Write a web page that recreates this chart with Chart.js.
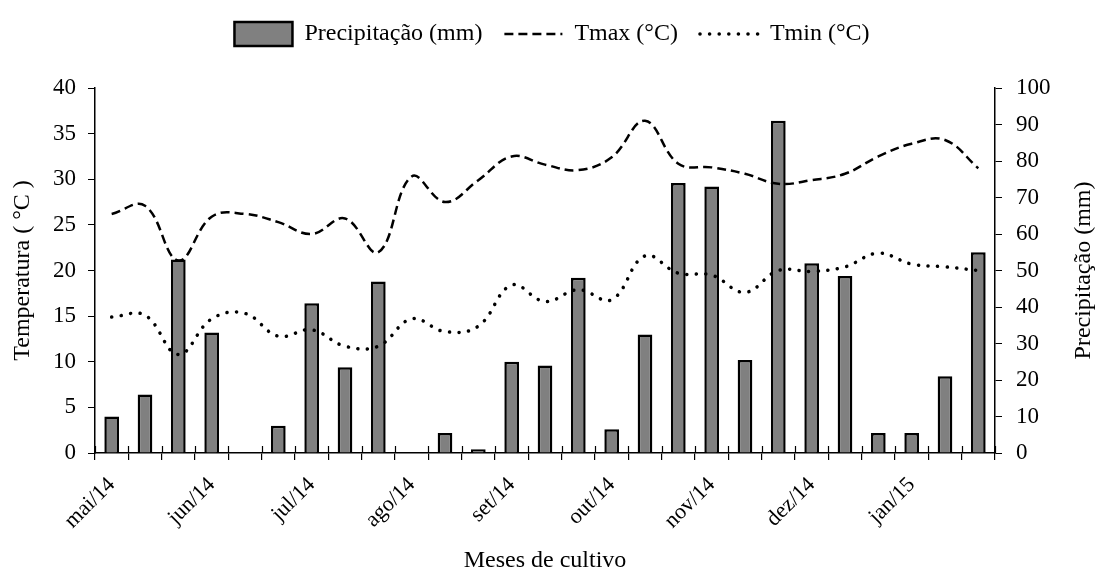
<!DOCTYPE html>
<html>
<head>
<meta charset="utf-8">
<script src="https://cdn.jsdelivr.net/npm/chart.js@4"></script>
<style>
  body { margin: 0; background: #fff; }
  #wrap { width: 1096px; height: 575px; }
</style>
</head>
<body>
<div id="wrap"><canvas id="chartClima"></canvas></div>
<script>
// 27 decendios, labelled once per month
const decendios = [
  'mai/14','','','jun/14','','','jul/14','','','ago/14','','','set/14','','',
  'out/14','','','nov/14','','','dez/14','','','jan/15','',''
];
const precipitacao = [10, 16, 53, 33, 0, 7.5, 41, 23.5, 47, 0, 5.5, 1, 25, 24, 48, 6.5, 32.5, 74, 73, 25.5, 91, 52, 48.5, 5.5, 5.5, 21, 55];
const tmax = [26.2, 27.1, 21.1, 25.9, 26.2, 25.3, 24.0, 25.7, 22.0, 30.3, 27.5, 29.9, 32.5, 31.6, 31.0, 32.4, 36.4, 31.7, 31.3, 30.6, 29.5, 29.9, 30.6, 32.5, 33.9, 34.3, 31.2];
const tmin = [14.9, 15.1, 10.8, 14.7, 15.3, 12.8, 13.5, 11.7, 11.7, 14.7, 13.3, 13.9, 18.4, 16.6, 17.9, 16.8, 21.6, 19.7, 19.5, 17.6, 20.0, 19.9, 20.4, 21.9, 20.7, 20.4, 20.0];

const serif = '"Liberation Serif", "Times New Roman", serif';
const fonteTick = {family: serif, size: 23};
const fonteTitulo = {family: serif, size: 24};
Chart.defaults.color = '#000';
Chart.defaults.font.family = serif;

// legend gets a fixed height so the plot starts lower, like the original
const extras = {
  id: 'extras',
  afterInit(chart) {
    const lg = chart.legend;
    const fit = lg.fit;
    lg.fit = function () { fit.call(this); this.height = 88; };
  },
  afterDraw(chart) {
    const ctx = chart.ctx, x = chart.scales.x, a = chart.chartArea;
    ctx.save();
    // short tick marks above the x axis at the slot boundaries
    ctx.strokeStyle = '#000';
    ctx.lineWidth = 1.2;
    const half = (x.getPixelForValue(1) - x.getPixelForValue(0)) / 2;
    for (let i = 0; i <= decendios.length; i++) {
      const px = Math.round(x.getPixelForValue(i) - half) + 0.5;
      ctx.beginPath(); ctx.moveTo(px, a.bottom); ctx.lineTo(px, a.bottom - 7); ctx.stroke();
    }
    // right axis title reads bottom to top
    ctx.font = '24px ' + serif;
    ctx.fillStyle = '#000';
    ctx.textAlign = 'center';
    ctx.textBaseline = 'middle';
    ctx.translate(1084, (a.top + a.bottom) / 2);
    ctx.rotate(-Math.PI / 2);
    ctx.fillText('Precipitação (mm)', 0, 0);
    ctx.restore();
  }
};

const c = document.getElementById('chartClima');
new Chart(c, {
  type: 'bar',
  data: {
    labels: decendios,
    datasets: [
      {label: 'Precipitação (mm)', type: 'bar', data: precipitacao, yAxisID: 'yP',
       backgroundColor: '#808080', borderColor: '#000', borderWidth: 2.5,
       barPercentage: 0.44, categoryPercentage: 1, order: 2},
      {label: 'Tmax (°C)', type: 'line', data: tmax, yAxisID: 'yT',
       borderColor: '#000', borderWidth: 2.5, borderDash: [9, 5], pointRadius: 0,
       tension: 0.4, fill: false, order: 1},
      {label: 'Tmin (°C)', type: 'line', data: tmin, yAxisID: 'yT',
       borderColor: '#000', borderWidth: 3.5, borderDash: [0.1, 9.5], borderCapStyle: 'round',
       pointRadius: 0, tension: 0.4, fill: false, order: 0}
    ]
  },
  plugins: [extras],
  options: {
    responsive: true,
    maintainAspectRatio: false,
    animation: false,
    layout: {padding: {top: 0, left: 8, right: 0, bottom: 0}},
    plugins: {
      tooltip: {enabled: false},
      legend: {
        position: 'top',
        align: 'center',
        labels: {
          font: {size: 24}, usePointStyle: true, pointStyleWidth: 58, padding: 22, color: '#000',
          generateLabels: chart => chart.data.datasets.map((d, i) => ({
            text: d.label,
            datasetIndex: i,
            fillStyle: d.type === 'bar' ? d.backgroundColor : 'rgba(0,0,0,0)',
            strokeStyle: '#000',
            lineWidth: d.type === 'bar' ? 2.5 : d.borderWidth,
            lineDash: d.borderDash || [],
            lineCap: d.borderCapStyle || 'butt',
            pointStyle: d.type === 'bar' ? 'rect' : 'line',
            fontColor: '#000'
          }))
        }
      }
    },
    scales: {
      x: {
        offset: true,
        grid: {offset: true, drawOnChartArea: false, drawTicks: true, tickLength: 7, color: '#000', lineWidth: 1.2},
        border: {display: true, color: '#000', width: 1.5},
        ticks: {autoSkip: false, maxRotation: 45, minRotation: 45, font: {family: serif, size: 22}, padding: 12},
        title: {display: true, text: 'Meses de cultivo', font: fonteTitulo, padding: {top: 4, bottom: 0}},
        afterFit: s => { s.height = 122; }
      },
      yT: {
        position: 'left', min: 0, max: 40,
        ticks: {stepSize: 5, font: fonteTick, padding: 12},
        grid: {drawOnChartArea: false, tickLength: 7, color: '#000'},
        border: {display: true, color: '#000', width: 1.5},
        title: {display: true, text: 'Temperatura ( °C )', font: fonteTitulo, padding: 0},
        afterFit: s => { s.width = 87; }
      },
      yP: {
        position: 'right', min: 0, max: 100,
        ticks: {stepSize: 10, font: fonteTick, padding: 14},
        grid: {drawOnChartArea: false, tickLength: 7, color: '#000'},
        border: {display: true, color: '#000', width: 1.5},
        afterFit: s => { s.width = 101; }
      }
    }
  }
});
</script>
</body>
</html>
